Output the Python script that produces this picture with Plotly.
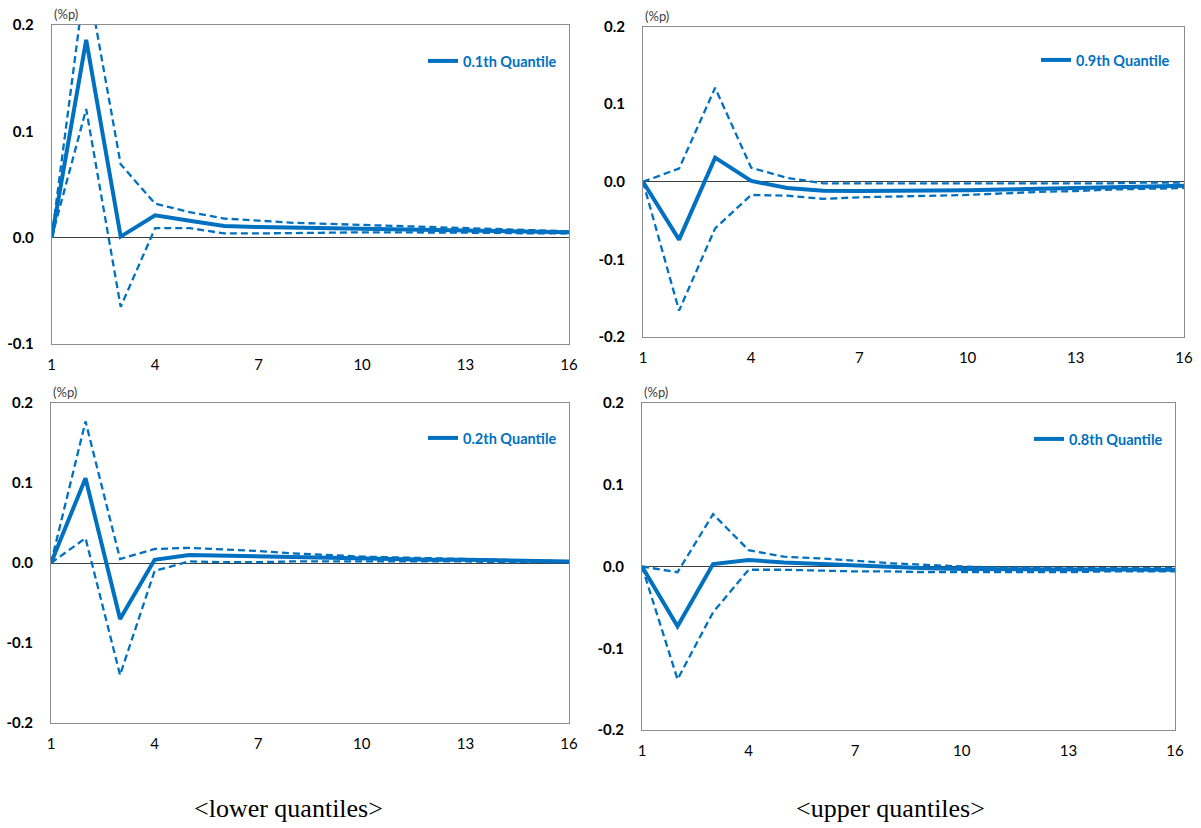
import plotly.graph_objects as go

periods = list(range(1, 17))
x_ticks = [1, 4, 7, 10, 13, 16]

# 0.1th quantile
q01_mid = [0, 0.186, 0.001, 0.021, 0.016, 0.011, 0.010, 0.0095, 0.009, 0.0085, 0.008, 0.0075, 0.007, 0.006, 0.0055, 0.005]
q01_up = [0, 0.250, 0.069, 0.032, 0.024, 0.018, 0.016, 0.014, 0.013, 0.012, 0.011, 0.010, 0.009, 0.008, 0.007, 0.006]
q01_lo = [0, 0.121, -0.065, 0.009, 0.009, 0.004, 0.004, 0.0045, 0.005, 0.005, 0.005, 0.005, 0.005, 0.0045, 0.004, 0.004]

# 0.9th quantile
q09_mid = [0, -0.0745, 0.031, 0.001, -0.008, -0.0115, -0.012, -0.012, -0.0115, -0.011, -0.010, -0.009, -0.008, -0.007, -0.006, -0.005]
q09_up = [0, 0.017, 0.121, 0.018, 0.005, -0.002, -0.002, -0.002, -0.002, -0.002, -0.002, -0.002, -0.002, -0.002, -0.001, -0.001]
q09_lo = [0, -0.166, -0.060, -0.017, -0.018, -0.022, -0.020, -0.019, -0.018, -0.017, -0.015, -0.013, -0.012, -0.010, -0.009, -0.008]

# 0.2th quantile
q02_mid = [0, 0.106, -0.070, 0.004, 0.010, 0.009, 0.008, 0.007, 0.006, 0.005, 0.005, 0.004, 0.004, 0.003, 0.003, 0.002]
q02_up = [0, 0.177, 0.005, 0.0175, 0.019, 0.017, 0.015, 0.012, 0.010, 0.008, 0.007, 0.006, 0.005, 0.004, 0.003, 0.002]
q02_lo = [0, 0.031, -0.140, -0.010, 0.002, 0.001, 0.001, 0.002, 0.002, 0.002, 0.002, 0.002, 0.002, 0.001, 0.001, 0.001]

# 0.8th quantile
q08_mid = [0, -0.073, 0.003, 0.008, 0.005, 0.003, 0.001, -0.001, -0.002, -0.003, -0.003, -0.004, -0.004, -0.004, -0.004, -0.004]
q08_up = [0, -0.007, 0.064, 0.020, 0.012, 0.010, 0.007, 0.004, 0.002, 0.000, -0.001, -0.001, -0.002, -0.002, -0.002, -0.002]
q08_lo = [0, -0.138, -0.056, -0.004, -0.004, -0.005, -0.006, -0.006, -0.007, -0.007, -0.007, -0.007, -0.007, -0.006, -0.006, -0.006]

panel_names = ["0.1th Quantile", "0.9th Quantile", "0.2th Quantile", "0.8th Quantile"]
captions = ["<lower quantiles>", "<upper quantiles>"]

BLUE = "#0070C0"
W, H = 1201, 828

# panel boxes in pixels: (left, right, top, bottom)
boxes = [
    (51.7, 569, 25, 344),
    (643, 1184, 26.5, 337),
    (51, 569, 403, 723),
    (642, 1175, 403, 730),
]
yranges = [[-0.1, 0.2], [-0.2, 0.2], [-0.2, 0.2], [-0.2, 0.2]]
yticks = [[-0.1, 0.0, 0.1, 0.2], [-0.2, -0.1, 0.0, 0.1, 0.2], [-0.2, -0.1, 0.0, 0.1, 0.2], [-0.2, -0.1, 0.0, 0.1, 0.2]]
legend_pos = [(562, 61), (1175, 60), (562, 438), (1168, 439)]
series = [
    (q01_mid, q01_up, q01_lo),
    (q09_mid, q09_up, q09_lo),
    (q02_mid, q02_up, q02_lo),
    (q08_mid, q08_up, q08_lo),
]

fig = go.Figure()
layout = dict(
    template="none",
    width=W, height=H,
    margin=dict(l=0, r=0, t=0, b=0, pad=0, autoexpand=False),
    paper_bgcolor="white", plot_bgcolor="white",
    font=dict(family="Lato", size=14, color="#000000"),
    showlegend=True,
)
annotations = []

for i, ((mid, up, lo), box) in enumerate(zip(series, boxes)):
    k = i + 1
    xa = "x" if k == 1 else f"x{k}"
    ya = "y" if k == 1 else f"y{k}"
    lg = "legend" if k == 1 else f"legend{k}"
    for vals in (up, lo):
        fig.add_trace(go.Scatter(
            x=periods, y=vals, mode="lines", xaxis=xa, yaxis=ya,
            line=dict(color=BLUE, width=2.3, dash="7px,4px"),
            showlegend=False, hoverinfo="skip", cliponaxis=True,
        ))
    fig.add_trace(go.Scatter(
        x=periods, y=mid, mode="lines", xaxis=xa, yaxis=ya,
        line=dict(color=BLUE, width=4), name=panel_names[i],
        legend=lg, showlegend=True,
    ))
    l, r, t, b = box
    layout["xaxis" if k == 1 else f"xaxis{k}"] = dict(
        domain=[l / W, r / W], anchor=ya, range=[1, 16], automargin=False,
        tickvals=x_ticks, ticktext=[str(v) for v in x_ticks],
        showgrid=False, zeroline=False, showline=True, mirror=True,
        linecolor="#8c8c8c", linewidth=1, ticks="",
        ticklabelstandoff=7, tickfont=dict(size=15, color="#000000"),
    )
    layout["yaxis" if k == 1 else f"yaxis{k}"] = dict(
        domain=[1 - b / H, 1 - t / H], anchor=xa, range=yranges[i], automargin=False,
        tickvals=yticks[i], ticktext=[f"{v:.1f}" for v in yticks[i]],
        showgrid=False, zeroline=True, zerolinecolor="#404040", zerolinewidth=1,
        showline=True, mirror=True, linecolor="#8c8c8c", linewidth=1, ticks="",
        ticklabelstandoff=14, tickfont=dict(size=15, color="#000000", weight="bold"),
    )
    lx, ly = legend_pos[i]
    layout[lg] = dict(
        x=lx / W, y=1 - ly / H, xanchor="right", yanchor="middle",
        xref="paper", yref="paper", bgcolor="rgba(0,0,0,0)",
        font=dict(family="Lato", size=14.5, color=BLUE, weight="bold"),
        itemwidth=30, borderwidth=0,
    )
    annotations.append(dict(
        text="(%p)", xref="paper", yref="paper", x=l / W, y=1 - (t - 1) / H,
        xanchor="left", yanchor="bottom", showarrow=False,
        font=dict(family="Lato", size=13, color="#404040"),
    ))

for cap, cx in zip(captions, (288, 890)):
    annotations.append(dict(text=cap.replace("<", "&lt;").replace(">", "&gt;"),
                            xref="paper", yref="paper", x=cx / W, y=1 - 808 / H,
                            xanchor="center", yanchor="middle", showarrow=False,
                            font=dict(family="Liberation Serif", size=26, color="#000000")))
layout["annotations"] = annotations

fig.update_layout(**layout)
fig.write_html("out.html")
